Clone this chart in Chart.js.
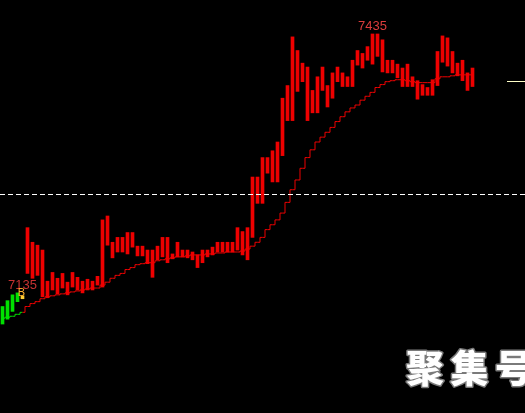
<!DOCTYPE html>
<html>
<head>
<meta charset="utf-8">
<script src="https://cdn.jsdelivr.net/npm/chart.js@4/dist/chart.umd.min.js"></script>
<style>
  html, body { margin: 0; padding: 0; background: #000; }
  canvas { display: block; }
</style>
</head>
<body>
<canvas id="chart-1" width="525" height="413"></canvas>
<script>
// bar index 0..94, each bar is a [low, high] block
const LOWS = [
  7137, 7142, 7150, 7160, 7163, 7189, 7184, 7187, 7165, 7164,
  7172, 7168, 7174, 7167, 7175, 7172, 7169, 7172, 7172, 7177,
  7175, 7218, 7205, 7211, 7211, 7209, 7216, 7207, 7207, 7199,
  7185, 7203, 7206, 7200, 7204, 7206, 7206, 7205, 7203, 7195,
  7200, 7206, 7208, 7211, 7211, 7211, 7211, 7213, 7208, 7203,
  7226, 7261, 7261, 7292, 7283, 7283, 7310, 7346, 7346, 7376,
  7386, 7346, 7354, 7354, 7377, 7360, 7369, 7386, 7381, 7381,
  7381, 7403, 7400, 7408, 7404, 7412, 7396, 7395, 7395, 7390,
  7381, 7381, 7381, 7368, 7372, 7372, 7372, 7382, 7406, 7402,
  7395, 7392, 7387, 7377, 7381
];
const HIGHS = [
  7155, 7161, 7167, 7169, 7166, 7236, 7221, 7218, 7213, 7181,
  7190, 7184, 7189, 7180, 7190, 7185, 7181, 7183, 7181, 7186,
  7244, 7248, 7221, 7226, 7226, 7231, 7231, 7217, 7217, 7213,
  7213, 7217, 7226, 7226, 7209, 7221, 7213, 7213, 7211, 7208,
  7213, 7213, 7216, 7221, 7221, 7221, 7221, 7236, 7232, 7236,
  7288, 7288, 7308, 7308, 7315, 7324, 7369, 7382, 7432, 7418,
  7405, 7401, 7377, 7391, 7401, 7382, 7395, 7401, 7395, 7391,
  7408, 7418, 7415, 7422, 7435, 7435, 7429, 7408, 7408, 7404,
  7400, 7404, 7391, 7387, 7383, 7380, 7388, 7417, 7433, 7431,
  7417, 7405, 7408, 7395, 7400
];
// stepped average line
const MA_LINE = [
  7143, 7144, 7145, 7147, 7149, 7155, 7158, 7160, 7163, 7165,
  7166, 7167, 7168, 7169, 7170, 7171, 7172, 7173, 7174, 7174,
  7177, 7180, 7184, 7187, 7189, 7193, 7195, 7198, 7199, 7200,
  7200, 7202, 7203, 7204, 7205, 7206, 7206, 7207, 7208, 7208,
  7208, 7209, 7209, 7210, 7210, 7211, 7211, 7211, 7212, 7214,
  7217, 7221, 7226, 7234, 7239, 7244, 7251, 7262, 7275, 7285,
  7297, 7308, 7316, 7324, 7329, 7334, 7339, 7345, 7350, 7355,
  7359, 7362, 7367, 7371, 7375, 7380, 7383, 7386, 7387, 7388,
  7388, 7387, 7386, 7385, 7385, 7385, 7385, 7389, 7391, 7391,
  7392, 7393, 7393, 7393, 7393
];
const BUY_INDEX = 4;       // bar with the "B" signal
const HIGH_MARK = '7435';
const LOW_MARK = '7135';
const MID_PRICE = 7270.6;  // dashed middle line
const LAST_PRICE = 7386.7; // short line on the right

const RED = '#ee0000';
const GREEN = '#00e000';
const YELLOW = '#ffcc33';

function barColor(i) {
  if (i < BUY_INDEX) return GREEN;
  if (i === BUY_INDEX) return YELLOW;
  return RED;
}

const overlay = {
  id: 'overlay',
  beforeDraw(chart) {
    const ctx = chart.ctx;
    ctx.save();
    ctx.fillStyle = '#000';
    ctx.fillRect(0, 0, chart.width, chart.height);
    ctx.restore();
  },
  afterDatasetsDraw(chart) {
    const ctx = chart.ctx;
    const xs = chart.scales.x;
    const ys = chart.scales.y;
    ctx.save();

    // dashed middle line
    const yMid = Math.round(ys.getPixelForValue(MID_PRICE)) + 0.5;
    ctx.strokeStyle = '#ffffff';
    ctx.lineWidth = 1;
    ctx.setLineDash([5, 3]);
    ctx.beginPath();
    ctx.moveTo(0, yMid);
    ctx.lineTo(chart.width, yMid);
    ctx.stroke();
    ctx.setLineDash([]);

    // last price tick at right
    const yLast = Math.round(ys.getPixelForValue(LAST_PRICE)) + 0.5;
    ctx.strokeStyle = '#ffffc8';
    ctx.beginPath();
    ctx.moveTo(507, yLast);
    ctx.lineTo(chart.width, yLast);
    ctx.stroke();

    // high / low labels
    let hi = 0;
    HIGHS.forEach((v, i) => { if (v > HIGHS[hi]) hi = i; });
    ctx.textAlign = 'center';
    ctx.textBaseline = 'alphabetic';
    ctx.font = '13px "Liberation Sans", Arial, sans-serif';
    ctx.fillStyle = '#dc3c3c';
    ctx.fillText(HIGH_MARK, xs.getPixelForValue(hi), ys.getPixelForValue(HIGHS[hi]) - 4);

    const xb = xs.getPixelForValue(BUY_INDEX);
    const yb = ys.getPixelForValue(HIGHS[BUY_INDEX]);
    ctx.fillStyle = '#c83232';
    ctx.fillText(LOW_MARK, xb, yb - 7);
    ctx.font = '11px "Liberation Sans", Arial, sans-serif';
    ctx.fillStyle = '#ffb030';
    ctx.fillText('B', xb - 1, yb);

    // watermark
    ctx.font = '900 38px "Noto Sans CJK SC", sans-serif';
    ctx.textAlign = 'left';
    ctx.textBaseline = 'middle';
    ctx.lineJoin = 'round';
    ['聚', '集', '号'].forEach((ch, i) => {
      const x = 406 + i * 44.5;
      ctx.strokeStyle = '#7a7a7a';
      ctx.lineWidth = 3;
      ctx.strokeText(ch, x, 368);
      ctx.fillStyle = '#ffffff';
      ctx.fillText(ch, x, 368);
    });
    ctx.restore();
  }
};

const barData = LOWS.map((lo, i) => ({ x: i, y: [lo, HIGHS[i]] }));
const maData = MA_LINE.map((v, i) => ({ x: i, y: v }));

const chart1 = new Chart(document.getElementById('chart-1'), {
  type: 'bar',
  data: {
    datasets: [
      {
        type: 'line',
        data: maData,
        borderColor: RED,
        borderWidth: 1,
        pointRadius: 0,
        stepped: 'middle',
        fill: false,
        segment: {
          borderColor: ctx => ctx.p1DataIndex <= BUY_INDEX ? GREEN : RED
        },
        order: 0
      },
      {
        data: barData,
        backgroundColor: LOWS.map((_, i) => barColor(i)),
        borderWidth: 0,
        barThickness: 3,
        grouped: false,
        order: 1
      }
    ]
  },
  options: {
    responsive: false,
    animation: false,
    devicePixelRatio: 1,
    layout: { padding: 0 },
    plugins: {
      legend: { display: false },
      tooltip: { enabled: false }
    },
    scales: {
      x: {
        type: 'linear', min: -0.5, max: 104.5, offset: false,
        grid: { offset: false }, display: false
      },
      y: { min: 7045.6, max: 7469.9, display: false }
    }
  },
  plugins: [overlay]
});
</script>
</body>
</html>
